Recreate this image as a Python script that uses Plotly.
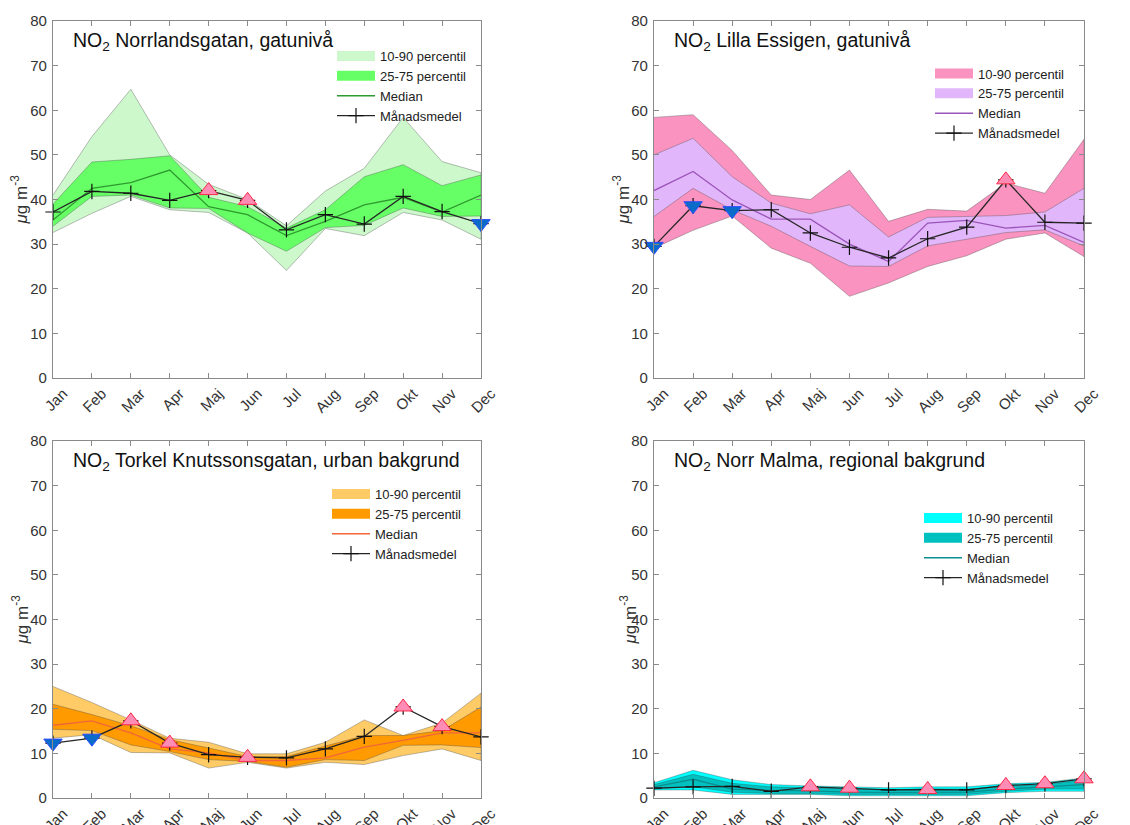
import plotly.graph_objects as go

months = ["Jan", "Feb", "Mar", "Apr", "Maj", "Jun", "Jul", "Aug", "Sep", "Okt", "Nov", "Dec"]

# Norrlandsgatan, gatunivå
nl_p10 = [32.6, 36.9, 40.7, 37.7, 37.1, 32.5, 24.1, 33.5, 31.9, 37.1, 35.4, 31.1]
nl_p25 = [34.0, 40.7, 41.0, 38.1, 38.0, 32.5, 28.4, 33.7, 34.2, 38.1, 36.2, 36.3]
nl_med = [35.4, 42.5, 43.8, 46.6, 38.4, 36.6, 31.9, 35.1, 38.8, 40.5, 37.2, 41.0]
nl_p75 = [39.0, 48.4, 49.0, 49.8, 40.5, 38.4, 33.6, 37.7, 45.1, 47.8, 43.1, 45.5]
nl_p90 = [41.0, 54.1, 64.7, 50.0, 43.4, 40.0, 34.1, 41.9, 47.0, 58.4, 48.5, 46.0]
nl_mean = [37.2, 41.8, 41.4, 39.8, 42.0, 39.8, 33.2, 36.6, 34.5, 40.7, 37.3, 34.6]
nl_up = ["Maj", "Jun"]
nl_down = ["Dec"]

# Lilla Essigen, gatunivå
le_p10 = [29.1, 33.1, 36.3, 29.1, 25.7, 18.3, 21.3, 25.0, 27.4, 31.1, 32.5, 27.2]
le_p25 = [36.2, 42.5, 37.7, 34.0, 29.5, 25.1, 25.0, 29.6, 31.1, 32.6, 33.2, 29.6]
le_med = [42.0, 46.3, 39.9, 35.6, 35.6, 30.0, 26.1, 34.7, 35.3, 33.6, 34.2, 30.4]
le_p75 = [50.0, 53.7, 45.1, 39.2, 36.8, 38.8, 31.6, 36.0, 36.2, 36.4, 37.2, 42.5]
le_p90 = [58.4, 59.0, 51.0, 41.0, 40.0, 46.6, 35.1, 37.8, 37.4, 43.7, 41.4, 53.5]
le_mean = [29.5, 38.6, 37.5, 37.7, 32.5, 29.3, 26.9, 31.2, 33.8, 44.4, 34.9, 34.7]
le_up = ["Okt"]
le_down = ["Jan", "Feb", "Mar"]

# Torkel Knutssonsgatan, urban bakgrund
tk_p10 = [13.4, 14.2, 10.2, 10.1, 6.7, 8.0, 6.7, 8.0, 7.5, 9.5, 11.0, 8.4]
tk_p25 = [15.4, 15.1, 11.9, 10.4, 8.6, 8.2, 6.9, 8.6, 8.4, 11.8, 11.9, 11.3]
tk_med = [16.3, 17.3, 14.6, 11.0, 10.1, 8.4, 8.4, 9.0, 11.4, 12.9, 14.6, 14.6]
tk_p75 = [21.0, 18.7, 16.2, 13.1, 11.2, 9.3, 9.3, 11.6, 14.0, 14.0, 15.1, 20.4]
tk_p90 = [25.0, 21.4, 17.5, 13.4, 12.5, 9.9, 9.9, 12.5, 17.5, 14.0, 16.8, 23.5]
tk_mean = [12.3, 13.4, 17.3, 12.3, 9.7, 9.1, 9.0, 11.0, 13.8, 20.4, 16.0, 13.7]
tk_up = ["Mar", "Apr", "Jun", "Okt", "Nov"]
tk_down = ["Jan", "Feb"]

# Norr Malma, regional bakgrund
nm_p10 = [1.8, 1.8, 0.8, 0.8, 0.8, 0.5, 0.5, 0.5, 0.5, 1.2, 1.5, 1.5]
nm_p25 = [2.0, 2.5, 1.3, 1.0, 1.0, 0.8, 0.8, 0.8, 0.8, 1.5, 2.0, 2.0]
nm_med = [2.5, 4.2, 2.0, 1.7, 1.6, 1.3, 1.2, 1.3, 1.3, 2.0, 2.5, 3.0]
nm_p75 = [3.0, 5.3, 3.3, 2.5, 2.3, 2.0, 1.8, 2.0, 2.0, 2.6, 3.0, 4.0]
nm_p90 = [3.4, 6.2, 4.1, 3.0, 2.7, 2.5, 2.3, 2.5, 2.5, 3.2, 3.5, 4.5]
nm_mean = [2.2, 2.5, 2.6, 1.5, 2.5, 2.2, 1.8, 1.9, 1.8, 2.8, 3.2, 4.3]
nm_up = ["Maj", "Jun", "Aug", "Okt", "Nov", "Dec"]
nm_down = []

legend_labels = ["10-90 percentil", "25-75 percentil", "Median", "Månadsmedel"]
y_ticks = [0, 10, 20, 30, 40, 50, 60, 70, 80]

# page body has an 8px margin: figure is drawn 8px in from the window edge
OFF = 8
W, H = 1130 - OFF, 825 - OFF
FONT = "Liberation Sans, Arial, Helvetica, sans-serif"


def px(v):
    return (v - OFF) / W


def py(v):
    return 1 - (v - OFF) / H


# panel boxes in window pixels: (left, right, top, bottom)
panels = [
    dict(title="NO<sub>2</sub> Norrlandsgatan, gatunivå",
         data=(nl_p10, nl_p25, nl_med, nl_p75, nl_p90, nl_mean, nl_up, nl_down),
         box=(53, 481, 21, 378), c90="#ccf8cc", c75="#66ff66", cmed="#2f9a2f",
         leg=(332, 41), ylab=20, tx=71),
    dict(title="NO<sub>2</sub> Lilla Essigen, gatunivå",
         data=(le_p10, le_p25, le_med, le_p75, le_p90, le_mean, le_up, le_down),
         box=(654, 1084, 21, 378), c90="#fa93bf", c75="#e2b6fb", cmed="#9a55b8",
         leg=(930, 58.5), ylab=622, tx=672),
    dict(title="NO<sub>2</sub> Torkel Knutssonsgatan, urban bakgrund",
         data=(tk_p10, tk_p25, tk_med, tk_p75, tk_p90, tk_mean, tk_up, tk_down),
         box=(53, 481, 441, 798), c90="#ffcb66", c75="#ff9a00", cmed="#f2663a",
         leg=(327, 479), ylab=20, tx=71),
    dict(title="NO<sub>2</sub> Norr Malma, regional bakgrund",
         data=(nm_p10, nm_p25, nm_med, nm_p75, nm_p90, nm_mean, nm_up, nm_down),
         box=(654, 1084, 441, 798), c90="#00ffff", c75="#00c0c0", cmed="#0a9090",
         leg=(919, 503), ylab=628, tx=672),
]

fig = go.Figure()
annotations = []
edge = "rgba(70,70,70,0.35)"

for i, p in enumerate(panels):
    n = i + 1
    xa = "x" if n == 1 else f"x{n}"
    ya = "y" if n == 1 else f"y{n}"
    lg = "legend" if n == 1 else f"legend{n}"
    p10, p25, med, p75, p90, mean, up, down = p["data"]
    # 10-90 band
    fig.add_trace(go.Scatter(x=months + months[::-1], y=p90 + p10[::-1], fill="toself",
                             fillcolor=p["c90"], mode="lines", line=dict(color=edge, width=1),
                             xaxis=xa, yaxis=ya, showlegend=False, hoverinfo="skip"))
    # 25-75 band
    fig.add_trace(go.Scatter(x=months + months[::-1], y=p75 + p25[::-1], fill="toself",
                             fillcolor=p["c75"], mode="lines", line=dict(color=edge, width=1),
                             xaxis=xa, yaxis=ya, showlegend=False, hoverinfo="skip"))
    # median
    fig.add_trace(go.Scatter(x=months, y=med, mode="lines", line=dict(color=p["cmed"], width=1.3),
                             xaxis=xa, yaxis=ya, showlegend=False))
    # monthly mean
    fig.add_trace(go.Scatter(x=months, y=mean, mode="lines+markers", cliponaxis=False,
                             line=dict(color="#262626", width=1.3),
                             marker=dict(symbol="cross-thin", size=11, line=dict(color="#111", width=1.2)),
                             xaxis=xa, yaxis=ya, showlegend=False))
    up_y = [mean[months.index(m)] for m in up]
    down_y = [mean[months.index(m)] for m in down]
    fig.add_trace(go.Scatter(x=up, y=up_y, mode="markers", cliponaxis=False,
                             marker=dict(symbol="triangle-up", size=16, color="#ff8cb4",
                                         line=dict(color="#ff2a4a", width=1)),
                             xaxis=xa, yaxis=ya, showlegend=False))
    fig.add_trace(go.Scatter(x=down, y=down_y, mode="markers", cliponaxis=False,
                             marker=dict(symbol="triangle-down", size=16, color="#0a6cc8",
                                         line=dict(color="#2a4cff", width=1)),
                             xaxis=xa, yaxis=ya, showlegend=False))
    # legend entries
    fig.add_trace(go.Scatter(x=[None], y=[None], mode="lines", name=legend_labels[0],
                             line=dict(color=p["c90"], width=12), xaxis=xa, yaxis=ya, legend=lg))
    fig.add_trace(go.Scatter(x=[None], y=[None], mode="lines", name=legend_labels[1],
                             line=dict(color=p["c75"], width=12), xaxis=xa, yaxis=ya, legend=lg))
    fig.add_trace(go.Scatter(x=[None], y=[None], mode="lines", name=legend_labels[2],
                             line=dict(color=p["cmed"], width=1.3), xaxis=xa, yaxis=ya, legend=lg))
    fig.add_trace(go.Scatter(x=[None], y=[None], mode="lines+markers", name=legend_labels[3],
                             line=dict(color="#262626", width=1.3),
                             marker=dict(symbol="cross-thin", size=11, line=dict(color="#111", width=1.2)),
                             xaxis=xa, yaxis=ya, legend=lg))

    l, r, t, b = p["box"]
    xd = [px(l), px(r)]
    yd = [py(b), py(t)]
    axis_common = dict(showline=True, linecolor="#8a8a8a", linewidth=1.2, mirror="ticks",
                       ticks="inside", ticklen=5, tickcolor="#8a8a8a", showgrid=False,
                       zeroline=False, automargin=False,
                       tickfont=dict(family=FONT, size=15, color="#333"))
    fig.update_layout(**{
        ("xaxis" if n == 1 else f"xaxis{n}"): dict(axis_common, domain=xd, anchor=ya,
                                                   type="category", categoryorder="array",
                                                   categoryarray=months, range=[0, 11],
                                                   tickangle=-45, ticklabelshift=10),
        ("yaxis" if n == 1 else f"yaxis{n}"): dict(axis_common, domain=yd, anchor=xa,
                                                   range=[0, 80], tickvals=y_ticks,
                                                   ticklabelstandoff=2),
        lg: dict(x=px(p["leg"][0]), y=py(p["leg"][1]), xanchor="left", yanchor="top",
                 bgcolor="rgba(0,0,0,0)", font=dict(family=FONT, size=13, color="#222"),
                 itemwidth=38, tracegroupgap=0),
    })
    annotations.append(dict(text=p["title"], x=px(p["tx"]), y=py(t + 20),
                            xref="paper", yref="paper", xanchor="left", yanchor="middle",
                            showarrow=False, font=dict(family=FONT, size=19.5, color="#111")))
    annotations.append(dict(text="<i>μ</i>g m<sup>-3</sup>", x=px(p["ylab"]), y=py((t + b) / 2),
                            xref="paper", yref="paper", xanchor="center", yanchor="middle",
                            textangle=-90, showarrow=False,
                            font=dict(family=FONT, size=17, color="#333")))

fig.update_layout(template="none", width=W, height=H, margin=dict(l=0, r=0, t=0, b=0),
                  plot_bgcolor="white", paper_bgcolor="white",
                  annotations=annotations, showlegend=True)

fig.write_html("out.html")
